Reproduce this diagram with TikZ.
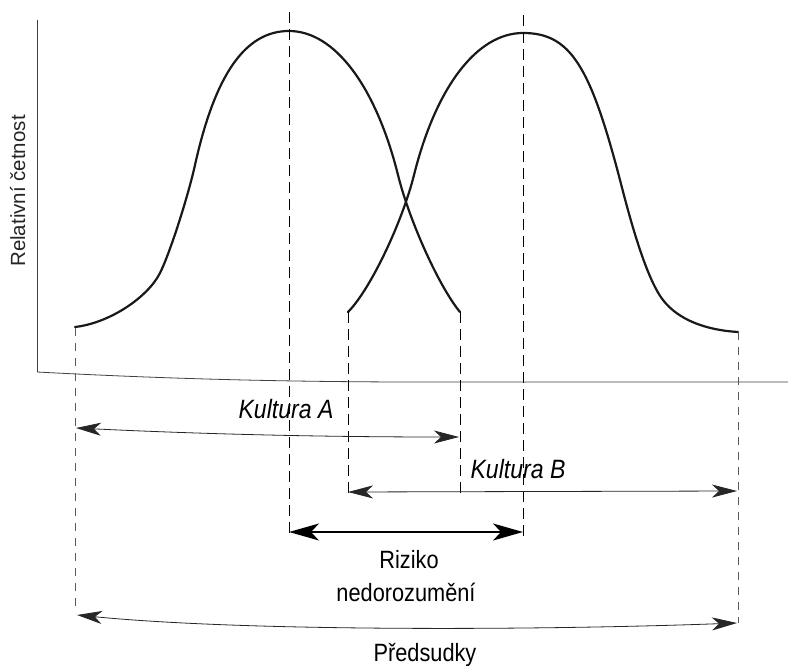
\documentclass[tikz,border=0pt]{standalone}
\usepackage{fontspec}
\setmainfont{Liberation Sans}
\newfontfamily\labfont[FakeStretch=0.87]{Liberation Sans}
\newfontfamily\axfont{Liberation Sans}
\usetikzlibrary{arrows.meta}
\tikzset{
  curveline/.style={line width=2.2pt, black!90, line cap=round},
  axisline/.style={line width=0.8pt, black!75},
  innerdash/.style={line width=0.9pt, black, dash pattern=on 11pt off 6pt},
  outerdash/.style={line width=0.6pt, black!65, dash pattern=on 8pt off 7pt},
  thinarrow/.style={line width=0.8pt, black!85, {Stealth[length=25pt,width=13pt,inset=7pt]}-{Stealth[length=25pt,width=13pt,inset=7pt]}},
  thickarrow/.style={line width=1.5pt, black, {Stealth[length=30pt,width=17pt,inset=8pt]}-{Stealth[length=30pt,width=17pt,inset=8pt]}},
  lab/.style={inner sep=0pt, anchor=base, font=\labfont\fontsize{25}{28}\selectfont},
  itlab/.style={inner sep=0pt, anchor=base, font=\labfont\itshape\fontsize{26.5}{30}\selectfont},
  axlab/.style={inner sep=0pt, anchor=base, rotate=90, font=\axfont\fontsize{20.5}{24}\selectfont, black!85}
}
\begin{document}
\begin{tikzpicture}[x=1pt,y=-1pt]
\useasboundingbox[fill=white] (0,0) rectangle (788,666);
% axes
\coordinate (ytop) at (37,20);
\coordinate (orig) at (37,372);
\coordinate (xmid) at (400,382);
\coordinate (xend) at (788,382);
\draw[axisline] (ytop) -- (orig);
\draw[axisline] (orig) .. controls (150,378) and (260,381.5) .. (xmid) -- (xend);
\node[axlab] (ylab) at (25,191) {Relativní četnost};
% curves
\draw[curveline] (75,327) .. controls (110,323) and (148,297) .. (160,273)
  .. controls (170,253) and (188,196.5) .. (195,165)
  .. controls (215,75) and (245,31) .. (289,31)
  .. controls (335,31) and (376,87) .. (398,175)
  .. controls (410,223) and (440,288) .. (460,312);
\draw[curveline] (348,312) .. controls (370,290) and (402,223) .. (414,175)
  .. controls (436,87) and (477,33) .. (523,33)
  .. controls (570,33) and (590,65) .. (620,180)
  .. controls (628,211) and (645,277) .. (663,300)
  .. controls (678,319.5) and (705,330) .. (738,332);
% dashed guides
\coordinate (a0t) at (75,328);   \coordinate (a0b) at (75,613);
\coordinate (pAt) at (289,12);   \coordinate (pAb) at (289,537);
\coordinate (a1t) at (460,312);  \coordinate (a1b) at (460,493);
\coordinate (b0t) at (348,312);  \coordinate (b0b) at (348,493);
\coordinate (pBt) at (523,15);   \coordinate (pBb) at (523,537);
\coordinate (b1t) at (738,332);  \coordinate (b1b) at (738,623);
\draw[outerdash] (a0t) -- (a0b);
\draw[outerdash] (b1t) -- (b1b);
\draw[innerdash] (pAt) -- (pAb);
\draw[innerdash] (pBt) -- (pBb);
\draw[innerdash] (a1t) -- (a1b);
\draw[innerdash] (b0t) -- (b0b);
% arrows
\coordinate (kaL) at (76,428);  \coordinate (kaR) at (459,437);
\coordinate (kbL) at (348,492); \coordinate (kbR) at (737,491);
\coordinate (rzL) at (289,532); \coordinate (rzR) at (523,532);
\coordinate (pdL) at (77,615);  \coordinate (pdR) at (737,623);
\draw[thinarrow] (kaL) .. controls (200,434) and (320,437) .. (kaR);
\draw[thinarrow] (kbL) -- (kbR);
\draw[thickarrow] (rzL) -- (rzR);
\draw[thinarrow] (pdL) .. controls (250,632) and (550,630) .. (pdR);
% labels
\node[itlab] (kA) at (286,418) {Kultura A};
\node[itlab] (kB) at (518,478) {Kultura B};
\node[lab] (rz1) at (409,568) {Riziko};
\node[lab] (rz2) at (406,601) {nedorozumění};
\node[lab] (pd) at (425,661) {Předsudky};
\end{tikzpicture}
\end{document}
